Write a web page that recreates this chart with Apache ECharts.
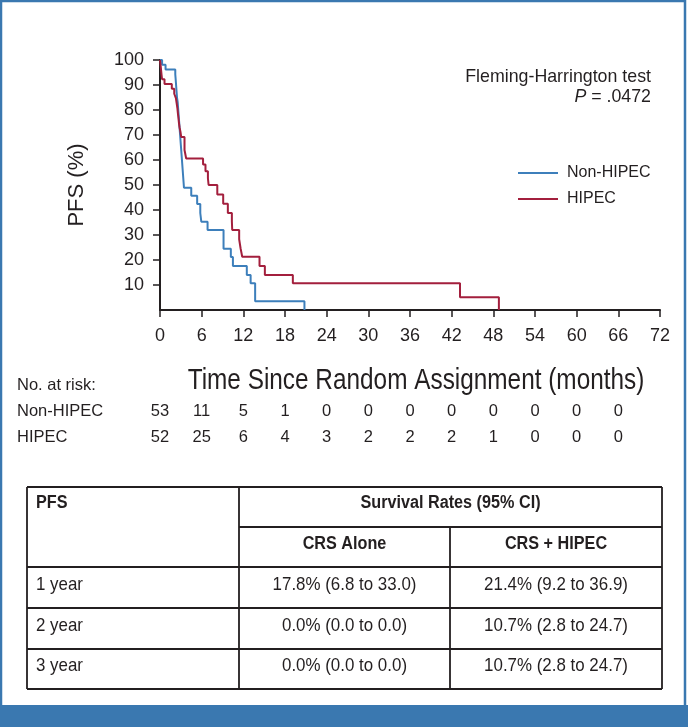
<!DOCTYPE html>
<html><head><meta charset="utf-8">
<script src="https://cdn.jsdelivr.net/npm/echarts@6/dist/echarts.min.js"></script>
<style>html,body{margin:0;padding:0;background:#fff}#c{width:688px;height:727px}</style>
</head><body><div id="c"></div>
<script>
// ---- data ----
const seriesNames = ['Non-HIPEC', 'HIPEC'];
const nonHipecKM = [
  [0,100],[0.3,98.1],[0.8,96.2],
  [2.2,94.3],[2.25,92.5],[2.3,90.6],[2.35,88.7],[2.4,86.8],[2.45,84.9],
  [2.55,83.0],[2.6,81.1],[2.65,79.2],[2.7,77.4],[2.75,75.5],[2.8,73.6],
  [2.85,71.7],[2.9,69.8],[2.95,67.9],[3.0,66.0],[3.05,64.2],[3.1,62.3],
  [3.15,60.4],[3.2,58.5],[3.25,56.6],[3.3,54.7],[3.35,52.8],[3.4,50.9],[3.45,48.9],
  [4.5,45.7],[5.35,42.4],[5.8,38.8],[5.95,35.3],[6.85,32.0],[9.15,24.5],
  [10.2,21.2],[10.5,17.6],[12.5,14.0],[13.05,10.7],[13.7,3.5],[20.8,0]
];
const hipecKM = [
  [0,100],[0.08,98.1],[0.15,96.2],[0.22,94.2],[0.3,92.3],[0.65,90.4],[1.7,88.5],
  [2.05,86.5],[2.3,84.6],[2.4,82.7],[2.5,80.8],[2.57,78.8],[2.65,76.9],[2.72,75.0],
  [2.81,73.1],[2.95,71.2],[3.05,69.2],[3.53,64.0],[3.77,60.6],[6.2,58.2],[6.55,55.5],
  [6.9,52.7],[7.0,50.0],[8.25,46.2],[9.1,42.5],[9.77,38.8],[10.35,35.4],[10.4,32.0],
  [11.4,28.3],[11.6,24.7],[11.84,21.3],[14.33,17.6],[15.1,14.0],[19.13,10.7],
  [43.2,5.1],[48.8,0]
];
const yTickValues = [10,20,30,40,50,60,70,80,90,100];
const riskTimes = [0,6,12,18,24,30,36,42,48,54,60,66];
const riskNonHipec = [53,11,5,1,0,0,0,0,0,0,0,0];
const riskHipec = [52,25,6,4,3,2,2,2,1,0,0,0];
const tableHeader = ['PFS', 'Survival Rates (95% CI)', 'CRS Alone', 'CRS + HIPEC'];
const rateRows = ['1 year', '2 year', '3 year'];
const crsAlone = ['17.8% (6.8 to 33.0)', '0.0% (0.0 to 0.0)', '0.0% (0.0 to 0.0)'];
const crsHipec = ['21.4% (9.2 to 36.9)', '10.7% (2.8 to 24.7)', '10.7% (2.8 to 24.7)'];

// ---- style ----
const INK = '#231f20';
const SANS = '"Liberation Sans", Arial, Helvetica, sans-serif';
const BLUE = '#3d7fbb', RED = '#a31f3d', FRAME = '#3a78b0';

const chart = echarts.init(document.getElementById('c'), null, {renderer: 'canvas'});
chart.setOption({
  animation: false,
  backgroundColor: '#fff',
  grid: {left: 160, top: 60, width: 500, height: 250},
  xAxis: {
    type: 'value', min: 0, max: 72, interval: 6,
    axisLine: {lineStyle: {color: INK, width: 2}},
    axisTick: {length: 7, lineStyle: {color: INK, width: 1.5}},
    axisLabel: {color: INK, fontSize: 18, fontFamily: SANS, margin: 17},
    splitLine: {show: false}
  },
  yAxis: {
    type: 'value', min: 0, max: 100, interval: 10,
    name: 'PFS (%)', nameLocation: 'middle', nameRotate: 90, nameGap: 72,
    nameTextStyle: {fontSize: 22, color: INK, fontFamily: SANS},
    axisLine: {show: true, lineStyle: {color: INK, width: 2}},
    axisTick: {show: true, length: 7, customValues: yTickValues, lineStyle: {color: INK, width: 1.5}},
    axisLabel: {color: INK, fontSize: 18, fontFamily: SANS, margin: 16, customValues: yTickValues},
    splitLine: {show: false}
  },
  legend: {
    orient: 'vertical', left: 513, top: 160, itemWidth: 40, itemHeight: 2, itemGap: 10,
    icon: 'rect',
    textStyle: {fontSize: 16, color: INK, fontFamily: SANS, lineHeight: 16, padding: [0, 0, 0, 4]},
    data: seriesNames
  },
  series: [
    {name: seriesNames[0], type: 'line', step: 'end', data: nonHipecKM, showSymbol: false,
     color: BLUE, lineStyle: {color: BLUE, width: 2}, z: 2},
    {name: seriesNames[1], type: 'line', step: 'end', data: hipecKM, showSymbol: false,
     color: RED, lineStyle: {color: RED, width: 2}, z: 3}
  ]
});

// ---- annotation graphics ----
const g = [];
function txt(x, y, s, opt, sx) {
  g.push({type: 'text', x: x, y: y, scaleX: sx || 1, silent: true, style: Object.assign({
    text: s, fill: INK, font: '16px ' + SANS, textAlign: 'left', textVerticalAlign: 'middle'
  }, opt || {})});
}
function ln(x1, y1, x2, y2, w) {
  g.push({type: 'line', silent: true, shape: {x1: x1, y1: y1, x2: x2, y2: y2},
    style: {stroke: INK, lineWidth: w || 1.8}});
}
// frame
g.push({type: 'rect', silent: true, shape: {x: 1, y: 1, width: 684, height: 725},
  style: {fill: null, stroke: FRAME, lineWidth: 2.5}});
g.push({type: 'rect', silent: true, shape: {x: 0, y: 705, width: 688, height: 22},
  style: {fill: FRAME}});

// test annotation
txt(651, 77, 'Fleming-Harrington test', {textAlign: 'right', font: '17.8px ' + SANS});
g.push({type: 'text', x: 651, y: 97, silent: true, style: {
  text: '{i|P} = .0472', textAlign: 'right', textVerticalAlign: 'middle', fill: INK,
  font: '17.8px ' + SANS,
  rich: {i: {fontStyle: 'italic', fontSize: 17.8, fontFamily: SANS, fill: INK}}
}});

// axis title (condensed look)
txt(416, 381, 'Time Since Random Assignment (months)', {textAlign: 'center', font: '29px ' + SANS}, 0.84);

// number at risk
txt(17, 385, 'No. at risk:', {font: '16.5px ' + SANS});
txt(17, 411, seriesNames[0], {font: '16.5px ' + SANS});
txt(17, 437, seriesNames[1], {font: '16.5px ' + SANS});
riskTimes.forEach(function (t, i) {
  const px = chart.convertToPixel({xAxisIndex: 0}, t);
  txt(px, 411, String(riskNonHipec[i]), {textAlign: 'center', font: '16.5px ' + SANS});
  txt(px, 437, String(riskHipec[i]), {textAlign: 'center', font: '16.5px ' + SANS});
});

// table
const TL = 27, TR = 662, C1 = 239, C2 = 450;
const rowY = [487, 527, 567, 608, 649, 689];
ln(TL, rowY[0], TR, rowY[0]);
ln(C1, rowY[1], TR, rowY[1]);
for (let k = 2; k < rowY.length; k++) ln(TL, rowY[k], TR, rowY[k]);
ln(TL, rowY[0], TL, rowY[5]);
ln(TR, rowY[0], TR, rowY[5]);
ln(C1, rowY[0], C1, rowY[5]);
ln(C2, rowY[1], C2, rowY[5]);
const BOLD = 'bold 18px ' + SANS, REG = '19px ' + SANS;
txt(36, 503, tableHeader[0], {font: BOLD}, 0.9);
txt((C1 + TR) / 2, 503, tableHeader[1], {font: BOLD, textAlign: 'center'}, 0.9);
txt((C1 + C2) / 2, 544, tableHeader[2], {font: BOLD, textAlign: 'center'}, 0.9);
txt((C2 + TR) / 2, 544, tableHeader[3], {font: BOLD, textAlign: 'center'}, 0.9);
rateRows.forEach(function (r, i) {
  const y = (rowY[i + 2] + rowY[i + 3]) / 2 - 3;
  txt(36, y, r, {font: REG}, 0.89);
  txt((C1 + C2) / 2, y, crsAlone[i], {font: REG, textAlign: 'center'}, 0.89);
  txt((C2 + TR) / 2, y, crsHipec[i], {font: REG, textAlign: 'center'}, 0.89);
});

chart.setOption({graphic: {elements: g}});
</script>
</body></html>
